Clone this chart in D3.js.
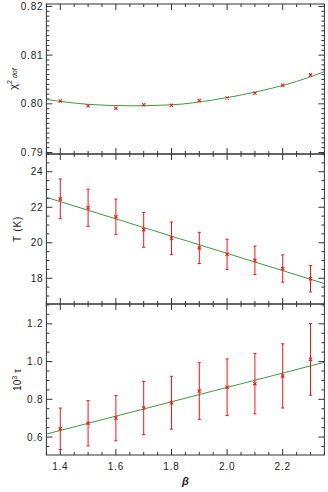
<!DOCTYPE html>
<html>
<head>
<meta charset="utf-8">
<script src="https://cdn.jsdelivr.net/npm/d3@7"></script>
<style>
  body { margin: 0; background: #fff; }
  svg text { font-family: "Liberation Sans", Arial, sans-serif; fill: #222; }
</style>
</head>
<body>
<script>
// Data
const beta = [1.4, 1.5, 1.6, 1.7, 1.8, 1.9, 2.0, 2.1, 2.2, 2.3];
const chi2 = [0.8006, 0.7996, 0.7991, 0.7998, 0.7997, 0.8007, 0.8012, 0.8022, 0.8038, 0.8059];
const temp = [22.47, 21.97, 21.46, 20.73, 20.25, 19.71, 19.35, 19.01, 18.55, 17.97];
const tempErr = [1.12, 1.05, 1.0, 0.98, 0.92, 0.88, 0.85, 0.8, 0.77, 0.74];
const tau = [0.644, 0.673, 0.70, 0.754, 0.782, 0.844, 0.864, 0.883, 0.924, 1.012];
const tauErr = [0.11, 0.12, 0.12, 0.14, 0.14, 0.15, 0.15, 0.16, 0.17, 0.19];

// Fitted curves
const chi2FitX = [1.35, 1.5, 1.65, 1.8, 1.95, 2.1, 2.25, 2.35];
const chi2FitY = [0.8009, 0.7999, 0.7996, 0.7998, 0.8008, 0.8024, 0.8046, 0.8066];
const tempFitX = [1.35, 2.35];
const tempFitY = [22.56, 17.70];
const tauFitX = [1.35, 2.35];
const tauFitY = [0.616, 0.996];

// Tick labels
const xTicks = [1.4, 1.6, 1.8, 2.0, 2.2];
const chi2Ticks = [0.79, 0.80, 0.81, 0.82];
const tempTicks = [18, 20, 22, 24];
const tauTicks = [0.6, 0.8, 1.0, 1.2];

// Layout
const WIDTH = 328;
const HEIGHT = 492;
const LEFT = 46.4;
const RIGHT = 324.4;
const MAJOR_LEN = 6;
const MINOR_LEN = 3;
const RED = "#f21818";
const GREEN = "#3d9a3d";
const AXIS_COLOR = "#333";

var svg = d3.select("body").append("svg")
  .attr("width", WIDTH)
  .attr("height", HEIGHT);

var x = d3.scaleLinear().domain([1.35, 2.35]).range([LEFT, RIGHT]);

var panels = [
  { top: 4, bottom: 154, domain: [0.7897, 0.8205], ticks: chi2Ticks, minor: 0.001, fmt: d3.format(".2f"),
    y: chi2, fitX: chi2FitX, fitY: chi2FitY },
  { top: 154, bottom: 304, domain: [16.55, 25.0], ticks: tempTicks, minor: 0.5, fmt: d3.format("d"),
    y: temp, err: tempErr, fitX: tempFitX, fitY: tempFitY },
  { top: 304, bottom: 455, domain: [0.505, 1.305], ticks: tauTicks, minor: 0.05, fmt: d3.format(".1f"),
    y: tau, err: tauErr, fitX: tauFitX, fitY: tauFitY }
];

var rangeSteps = function(lo, hi, step)
{
  // tick positions inside [lo, hi] at multiples of step
  var out = [];
  var start = Math.ceil(lo / step - 1e-6);
  for (let k = start; k * step <= hi + 1e-9; k++)
  {
    out.push(+(k * step).toFixed(6));
  }
  return out;
}

var drawPanel = function(p, idx)
{
  var y = d3.scaleLinear().domain(p.domain).range([p.bottom, p.top]);
  var g = svg.append("g").attr("class", "panel" + idx);

  // Frame
  g.append("rect")
    .attr("x", LEFT)
    .attr("y", p.top)
    .attr("width", RIGHT - LEFT)
    .attr("height", p.bottom - p.top)
    .attr("fill", "none")
    .attr("stroke", AXIS_COLOR)
    .attr("stroke-width", 1);

  // Y ticks on both sides, pointing inward
  var yMinor = rangeSteps(p.domain[0], p.domain[1], p.minor);
  yMinor.forEach(function(v)
  {
    let major = p.ticks.some(t => Math.abs(t - v) < 1e-6);
    let len = major ? MAJOR_LEN : MINOR_LEN;
    g.append("line").attr("x1", LEFT).attr("x2", LEFT + len)
      .attr("y1", y(v)).attr("y2", y(v)).attr("stroke", AXIS_COLOR);
    g.append("line").attr("x1", RIGHT).attr("x2", RIGHT - len)
      .attr("y1", y(v)).attr("y2", y(v)).attr("stroke", AXIS_COLOR);
  });

  // X ticks top and bottom
  var xMinor = rangeSteps(1.35, 2.35, 0.05);
  xMinor.forEach(function(v)
  {
    let major = xTicks.some(t => Math.abs(t - v) < 1e-6);
    let len = major ? MAJOR_LEN : MINOR_LEN;
    g.append("line").attr("x1", x(v)).attr("x2", x(v))
      .attr("y1", p.bottom).attr("y2", p.bottom - len).attr("stroke", AXIS_COLOR);
    g.append("line").attr("x1", x(v)).attr("x2", x(v))
      .attr("y1", p.top).attr("y2", p.top + len).attr("stroke", AXIS_COLOR);
  });

  // Y tick labels
  g.selectAll("text.ytick").data(p.ticks).enter().append("text")
    .attr("class", "ytick")
    .attr("x", LEFT - 3)
    .attr("y", d => y(d))
    .attr("dy", "0.35em")
    .attr("text-anchor", "end")
    .attr("font-size", 10)
    .attr("letter-spacing", 0.8)
    .text(d => p.fmt(d));

  // Fit line
  var line = d3.line()
    .x(d => x(d[0]))
    .y(d => y(d[1]))
    .curve(p.fitX.length > 2 ? d3.curveMonotoneX : d3.curveLinear);
  g.append("path")
    .datum(p.fitX.map((v, i) => [v, p.fitY[i]]))
    .attr("d", line)
    .attr("fill", "none")
    .attr("stroke", GREEN)
    .attr("stroke-width", 1);

  // Error bars
  if (p.err)
  {
    beta.forEach(function(b, i)
    {
      let hi = y(p.y[i] + p.err[i]);
      let lo = y(p.y[i] - p.err[i]);
      g.append("line").attr("x1", x(b)).attr("x2", x(b))
        .attr("y1", hi).attr("y2", lo).attr("stroke", RED).attr("stroke-width", 1);
      [hi, lo].forEach(function(yy)
      {
        g.append("line").attr("x1", x(b) - 1.6).attr("x2", x(b) + 1.6)
          .attr("y1", yy).attr("y2", yy).attr("stroke", RED).attr("stroke-width", 1);
      });
    });
  }

  // Data markers (small x)
  beta.forEach(function(b, i)
  {
    let cx = x(b), cy = y(p.y[i]), s = 1.6;
    g.append("path")
      .attr("d", "M" + (cx - s) + "," + (cy - s) + "L" + (cx + s) + "," + (cy + s) +
                 "M" + (cx - s) + "," + (cy + s) + "L" + (cx + s) + "," + (cy - s))
      .attr("stroke", RED)
      .attr("stroke-width", 1.1)
      .attr("fill", "none");
  });

  return y;
}

panels.forEach(drawPanel);

// X tick labels under the bottom panel
svg.selectAll("text.xtick").data(xTicks).enter().append("text")
  .attr("class", "xtick")
  .attr("x", d => x(d))
  .attr("y", 470)
  .attr("text-anchor", "middle")
  .attr("font-size", 10)
  .attr("letter-spacing", 0.8)
  .text(d => d3.format(".1f")(d));

// Axis titles
svg.append("text")
  .attr("x", x(1.85))
  .attr("y", 485)
  .attr("text-anchor", "middle")
  .attr("font-size", 11)
  .attr("font-style", "italic")
  .attr("font-weight", "bold")
  .text("β");

var chiTitle = svg.append("text")
  .attr("transform", "translate(17,79) rotate(-90)")
  .attr("text-anchor", "middle")
  .attr("font-size", 11);
chiTitle.append("tspan").text("χ");
chiTitle.append("tspan").attr("font-size", 7).attr("dy", -5).text("2");
chiTitle.append("tspan").attr("font-size", 7).attr("font-style", "italic").attr("dy", 5).attr("dx", 0).text(" dof");

svg.append("text")
  .attr("transform", "translate(21,229) rotate(-90)")
  .attr("text-anchor", "middle")
  .attr("font-size", 10)
  .attr("letter-spacing", 0.8)
  .text("T (K)");

var tauTitle = svg.append("text")
  .attr("transform", "translate(21,380) rotate(-90)")
  .attr("text-anchor", "middle")
  .attr("font-size", 10);
tauTitle.append("tspan").text("10");
tauTitle.append("tspan").attr("font-size", 7).attr("dy", -4).text("3");
tauTitle.append("tspan").attr("dy", 4).text(" τ");
</script>
</body>
</html>
